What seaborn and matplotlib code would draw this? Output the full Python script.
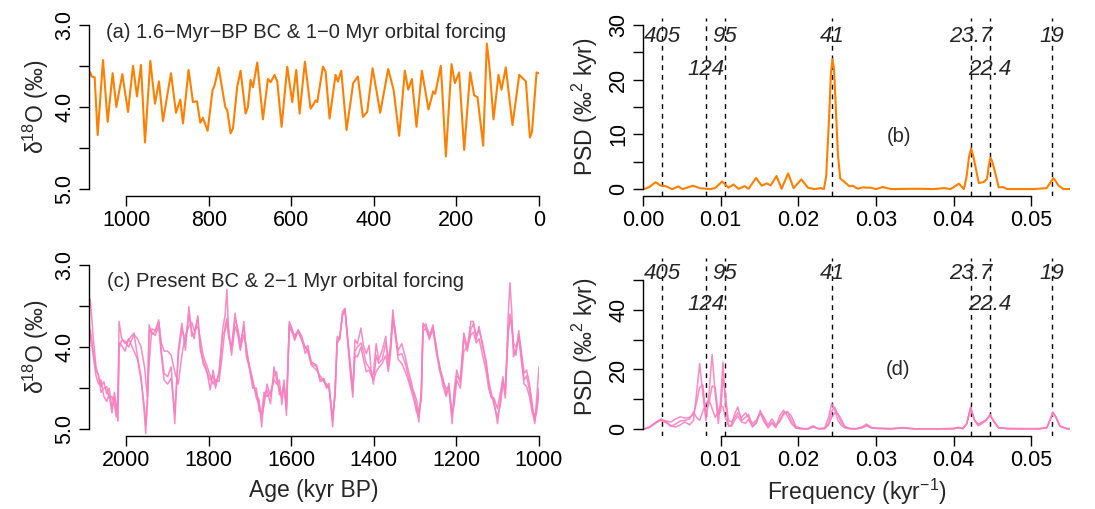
import numpy as np
import pandas as pd
import matplotlib
matplotlib.use("Agg")
import matplotlib.pyplot as plt
import seaborn as sns

# ---------------- data ----------------
# (a) simulated d18O, 1.6-Myr-BP boundary conditions, 1-0 Myr orbital forcing
age_a = [1087, 1083.5, 1076.3, 1069.0, 1056.1, 1044.8, 1032.7, 1023.8, 1009.3, 995.5,
         983.4, 973.8, 964.1, 954.4, 941.5, 930.2, 920.5, 910.8, 891.4, 879.3,
         868.8, 862.4, 848.7, 838.2, 828.5, 820.4, 814.0, 802.7, 790.6, 786.5,
         776.0, 759.9, 755.1, 747.0, 741.3, 730.9, 722.8, 710.7, 705.0, 698.6,
         692.9, 682.4, 668.7, 656.6, 650.1, 640.5, 634.0, 623.5, 609.8, 597.7,
         588.0, 579.9, 567.0, 553.3, 545.2, 541.2, 537.1, 523.4, 517.0, 507.3,
         492.8, 487.1, 479.0, 466.1, 450.0, 438.7, 426.6, 416.1, 403.0, 384.6,
         365.3, 352.3, 338.6, 324.9, 316.8, 307.9, 296.7, 283.7, 267.6, 256.3,
         251.5, 237.7, 225.6, 211.9, 203.8, 193.4, 181.2, 166.7, 157.0, 149.0,
         135.2, 126.4, 120.7, 110.2, 98.1, 90.8, 80.4, 64.2, 47.9, 31.7,
         22.0, 17.0, 5.9, 1.0]
d18o_a = [3.58, 3.63, 3.64, 4.34, 3.43, 4.18, 3.59, 4.00, 3.60, 4.06,
          3.50, 3.87, 3.49, 4.43, 3.44, 3.96, 3.69, 4.17, 3.59, 4.07,
          3.91, 4.20, 3.55, 3.94, 3.93, 4.19, 4.13, 4.29, 3.79, 3.75,
          3.52, 4.00, 4.04, 4.32, 4.26, 3.75, 3.56, 4.08, 4.00, 3.67,
          3.76, 3.46, 4.15, 3.66, 3.70, 3.61, 3.69, 4.24, 3.51, 3.94,
          3.55, 4.08, 3.45, 4.02, 3.96, 3.92, 3.94, 3.51, 3.57, 4.14,
          3.61, 3.69, 3.56, 4.28, 3.71, 3.63, 4.12, 4.06, 3.53, 4.07,
          3.54, 3.79, 4.35, 3.56, 3.79, 3.66, 4.24, 3.56, 4.03, 3.81,
          3.84, 3.50, 4.60, 3.48, 3.71, 3.58, 4.52, 3.58, 3.86, 3.88,
          4.47, 3.23, 3.47, 4.15, 3.61, 3.79, 3.52, 4.22, 3.61, 3.69,
          4.37, 4.30, 3.58, 3.59]

# (b) power spectral density of (a)
freq_b = [0.0, 0.00077, 0.00162, 0.00226, 0.0029, 0.00376, 0.00453, 0.0051, 0.0064, 0.0074,
          0.0087, 0.0093, 0.0102, 0.0110, 0.01166, 0.0123, 0.0131, 0.01358, 0.01456, 0.01529,
          0.01593, 0.01644, 0.0172, 0.01785, 0.0187, 0.01939, 0.0204, 0.02126, 0.0221, 0.0229,
          0.02331, 0.0236, 0.0240, 0.0242, 0.0244, 0.0246, 0.0248, 0.0251, 0.0254, 0.02596,
          0.0266, 0.0270, 0.02767, 0.0283, 0.02938, 0.03002, 0.03087, 0.03194, 0.03535, 0.03749,
          0.03877, 0.03962, 0.04069, 0.04133, 0.04167, 0.04200, 0.04227, 0.04255, 0.04283, 0.04325,
          0.04389, 0.04432, 0.04455, 0.04475, 0.04500, 0.04539, 0.04582, 0.04637, 0.04688, 0.0503,
          0.0520, 0.0525, 0.05286, 0.0532, 0.0535, 0.05414, 0.0550]
psd_b = [0.0, 0.4, 1.3, 0.7, 0.6, 0.05, 0.55, 0.05, 0.67, 0.2,
         0.06, 0.25, 1.46, 0.3, 0.9, 0.1, 0.6, 0.1, 2.07, 0.67,
         1.1, 0.73, 2.44, 0.12, 2.93, 0.24, 1.83, 0.3, 0.06, 0.24,
         0.06, 2.5, 14.0, 21.0, 23.7, 22.0, 16.0, 6.5, 2.0, 1.34,
         0.55, 0.67, 0.12, 0.37, 0.3, 0.06, 0.43, 0.06, 0.12, 0.06,
         0.24, 0.06, 1.04, 0.06, 2.26, 6.0, 7.44, 6.0, 4.1, 1.16,
         1.34, 1.95, 4.5, 5.8, 5.0, 2.87, 0.37, 0.43, 0.06, 0.06,
         0.24, 1.3, 2.07, 1.4, 0.73, 0.06, 0.06]

# (c) present boundary conditions, 2-1 Myr orbital forcing (three runs)
age_c = [2095.3, 2092.8, 2086.8, 2079.9, 2073.0, 2067.0, 2061.0, 2054.1, 2047.2, 2041.2,
         2034.4, 2028.4, 2024.1, 2019.8, 2017.2, 2011.2, 2002.6, 1994.0, 1981.1, 1972.5,
         1963.9, 1955.3, 1952.7, 1948.5, 1944.2, 1938.1, 1929.6, 1921.0, 1914.9, 1908.1,
         1899.5, 1890.9, 1882.3, 1873.7, 1865.1, 1856.5, 1848.0, 1841.1, 1835.1, 1826.5,
         1820.4, 1813.6, 1805.0, 1796.4, 1789.5, 1783.5, 1774.9, 1766.3, 1760.3, 1756.0,
         1751.7, 1744.8, 1736.3, 1729.4, 1723.4, 1714.8, 1708.8, 1700.2, 1693.3, 1684.7,
         1677.8, 1671.8, 1665.8, 1658.9, 1650.3, 1641.8, 1635.7, 1628.8, 1622.9, 1617.7,
         1611.7, 1604.8, 1598.8, 1591.9, 1583.3, 1574.7, 1566.1, 1560.1, 1551.5, 1538.7,
         1530.1, 1521.5, 1514.6, 1508.6, 1500.0, 1494.0, 1488.8, 1482.8, 1475.9, 1469.9,
         1463.1, 1457.0, 1451.0, 1445.9, 1439.9, 1431.3, 1425.3, 1418.4, 1411.5, 1405.5,
         1401.2, 1394.3, 1388.3, 1379.7, 1371.1, 1365.1, 1360.0, 1353.9, 1347.9, 1341.1,
         1332.5, 1323.9, 1317.0, 1308.4, 1302.4, 1296.4, 1291.2, 1285.2, 1280.9, 1274.1,
         1265.5, 1256.9, 1248.3, 1241.4, 1233.7, 1225.1, 1218.2, 1210.5, 1205.3, 1199.3,
         1190.7, 1182.1, 1173.5, 1164.9, 1158.9, 1152.1, 1145.2, 1136.6, 1128.0, 1122.0,
         1116.0, 1109.1, 1100.5, 1093.6, 1087.6, 1081.6, 1074.7, 1070.4, 1066.2, 1061.9,
         1055.8, 1049.0, 1043.0, 1036.1, 1030.1, 1023.2, 1016.3, 1010.3, 1006.0, 1000.0]
d18o_c1 = [4.16, 3.39, 3.43, 3.87, 4.24, 4.36, 4.48, 4.42, 4.57, 4.50,
           4.73, 4.61, 4.77, 4.67, 3.69, 3.89, 3.96, 3.91, 3.83, 4.12,
           4.36, 4.85, 5.05, 4.61, 3.73, 3.85, 3.81, 3.67, 4.04, 4.32,
           4.36, 4.24, 4.93, 4.04, 3.71, 4.04, 3.51, 3.87, 3.83, 3.65,
           4.04, 4.16, 4.28, 4.52, 4.28, 4.44, 4.32, 3.79, 3.61, 3.30,
           3.83, 4.04, 3.59, 3.83, 4.04, 3.69, 4.12, 4.28, 4.44, 4.57,
           4.65, 4.97, 4.61, 4.52, 4.69, 4.24, 4.40, 4.52, 4.61, 4.40,
           4.83, 3.69, 3.77, 3.89, 3.79, 3.87, 4.02, 3.98, 4.20, 4.24,
           4.40, 4.38, 4.48, 4.44, 4.97, 4.52, 3.87, 3.91, 3.57, 3.53,
           3.96, 4.32, 4.61, 3.91, 3.96, 3.77, 3.98, 4.08, 3.98, 4.36,
           4.32, 3.96, 4.16, 4.04, 3.87, 4.24, 4.04, 3.55, 3.87, 4.04,
           3.96, 4.12, 4.28, 4.44, 4.61, 4.73, 4.91, 4.52, 3.71, 3.77,
           3.91, 3.73, 4.08, 4.24, 4.36, 4.57, 4.44, 4.93, 4.52, 4.28,
           4.44, 3.83, 4.00, 3.69, 3.69, 3.91, 3.75, 4.00, 4.16, 4.44,
           4.61, 4.65, 4.93, 4.65, 4.36, 4.57, 3.63, 3.22, 3.55, 4.12,
           4.04, 3.85, 4.04, 4.32, 4.28, 4.44, 4.69, 4.93, 4.65, 4.24]
d18o_c2 = [4.00, 3.80, 3.79, 4.05, 4.30, 4.33, 4.55, 4.50, 4.48, 4.62,
           4.60, 4.70, 4.85, 4.62, 3.95, 3.98, 4.05, 3.90, 4.05, 4.15,
           4.40, 4.75, 4.95, 4.70, 3.80, 3.82, 3.86, 3.75, 4.10, 4.40,
           4.45, 4.38, 4.80, 4.10, 3.78, 3.95, 3.60, 3.80, 3.90, 3.62,
           3.98, 4.20, 4.30, 4.40, 4.35, 4.50, 4.30, 3.85, 3.80, 3.70,
           3.88, 4.00, 3.66, 3.78, 3.95, 3.75, 4.05, 4.25, 4.40, 4.62,
           4.70, 4.85, 4.70, 4.45, 4.60, 4.35, 4.30, 4.58, 4.55, 4.50,
           4.75, 3.75, 3.82, 3.85, 3.82, 3.92, 4.00, 4.05, 4.22, 4.28,
           4.35, 4.42, 4.45, 4.50, 4.90, 4.55, 3.92, 3.88, 3.62, 3.55,
           3.90, 4.25, 4.55, 4.05, 4.00, 3.95, 4.05, 4.20, 4.25, 4.30,
           4.45, 4.10, 4.20, 4.15, 3.95, 4.15, 4.00, 3.62, 3.80, 4.10,
           4.08, 4.20, 4.35, 4.50, 4.55, 4.65, 4.85, 4.60, 3.75, 3.72,
           3.85, 3.76, 4.00, 4.28, 4.40, 4.50, 4.52, 4.85, 4.60, 4.35,
           4.40, 3.90, 4.05, 3.78, 3.72, 3.85, 3.80, 3.95, 4.22, 4.40,
           4.55, 4.70, 4.85, 4.70, 4.45, 4.50, 3.85, 3.60, 3.75, 4.00,
           4.10, 3.80, 4.10, 4.40, 4.35, 4.52, 4.75, 4.85, 4.75, 4.50]
d18o_c3 = [3.95, 3.62, 3.85, 4.10, 4.35, 4.45, 4.40, 4.60, 4.66, 4.58,
           4.80, 4.55, 4.70, 4.90, 4.02, 3.92, 3.93, 4.00, 3.85, 3.90,
           4.00, 4.25, 4.40, 4.60, 4.20, 3.78, 3.80, 3.70, 3.95, 4.05,
           4.05, 4.10, 4.30, 4.45, 4.10, 3.85, 3.75, 3.70, 3.80, 3.75,
           3.90, 4.10, 4.22, 4.35, 4.45, 4.40, 4.42, 4.05, 3.75, 3.65,
           3.80, 4.10, 3.75, 3.85, 4.02, 3.85, 4.00, 4.30, 4.50, 4.50,
           4.78, 4.80, 4.55, 4.60, 4.55, 4.40, 4.45, 4.40, 4.70, 4.45,
           4.70, 3.72, 3.80, 3.92, 3.80, 3.90, 4.08, 4.02, 4.18, 4.22,
           4.42, 4.40, 4.50, 4.48, 4.85, 4.60, 3.95, 3.90, 3.60, 3.56,
           3.92, 4.20, 4.50, 4.10, 4.12, 4.00, 4.15, 4.30, 4.28, 4.35,
           4.40, 4.30, 4.25, 4.20, 4.10, 4.30, 4.10, 3.68, 3.85, 4.15,
           4.20, 4.30, 4.40, 4.55, 4.65, 4.80, 4.75, 4.65, 3.80, 3.78,
           3.88, 3.80, 4.05, 4.20, 4.45, 4.60, 4.48, 4.80, 4.70, 4.40,
           4.50, 4.05, 4.00, 3.85, 3.82, 3.95, 3.90, 4.10, 4.30, 4.50,
           4.60, 4.62, 4.75, 4.55, 4.40, 4.62, 3.80, 3.70, 3.68, 3.95,
           4.00, 3.90, 4.15, 4.45, 4.48, 4.60, 4.80, 4.90, 4.80, 4.55]

# (d) power spectral densities of the three runs in (c)
freq_d = [0.0, 0.0008, 0.0016, 0.0023, 0.0030, 0.0036, 0.0042, 0.0048, 0.0054, 0.0060,
          0.0065, 0.0069, 0.0073, 0.0077, 0.0081, 0.0085, 0.0089, 0.0093, 0.0097, 0.0100,
          0.0103, 0.0106, 0.0110, 0.0114, 0.0118, 0.0122, 0.0127, 0.0132, 0.0136, 0.0141,
          0.0146, 0.0151, 0.0156, 0.0161, 0.0166, 0.0171, 0.0176, 0.0181, 0.0186, 0.0191,
          0.0197, 0.0205, 0.0213, 0.0219, 0.0226, 0.0234, 0.0239, 0.0243, 0.0247, 0.0251,
          0.0255, 0.0260, 0.0266, 0.0275, 0.0282, 0.0288, 0.0295, 0.0305, 0.0320, 0.0335,
          0.0350, 0.0380, 0.0400, 0.0406, 0.0412, 0.0417, 0.0422, 0.0427, 0.0432, 0.0437,
          0.0442, 0.0447, 0.0452, 0.0458, 0.0470, 0.0490, 0.0510, 0.0520, 0.0524, 0.0528,
          0.0532, 0.0537, 0.0545, 0.0550]
psd_d1 = [0.0, 0.8, 2.2, 3.5, 2.6, 1.2, 0.8, 1.5, 2.5, 1.5,
          3.0, 12.0, 22.0, 12.0, 3.0, 12.0, 25.0, 12.0, 2.0, 10.0,
          22.5, 9.0, 1.0, 1.5, 5.0, 7.5, 3.0, 4.0, 5.0, 1.0,
          2.0, 6.3, 3.0, 0.5, 2.5, 0.8, 3.0, 5.5, 6.0, 3.0,
          0.5, 0.2, 0.3, 1.2, 0.2, 0.5, 4.0, 8.6, 6.5, 3.0,
          1.5, 0.5, 0.2, 0.3, 0.8, 1.8, 0.5, 0.4, 0.2, 0.5,
          0.2, 0.2, 0.3, 0.7, 0.3, 2.0, 7.5, 3.0, 1.2, 2.0,
          3.0, 5.0, 2.5, 0.5, 0.3, 0.3, 0.2, 0.6, 3.0, 5.8,
          4.0, 1.0, 0.3, 0.2]
psd_d2 = [0.0, 0.6, 2.0, 3.2, 2.8, 2.5, 3.5, 4.2, 3.8, 4.0,
          5.0, 9.0, 14.0, 14.8, 5.0, 9.0, 14.5, 14.0, 5.0, 6.0,
          17.0, 12.0, 3.0, 2.5, 4.0, 5.5, 4.0, 5.5, 4.0, 2.0,
          3.0, 5.8, 4.0, 1.5, 3.5, 1.5, 2.5, 5.0, 5.8, 4.5,
          1.0, 0.3, 0.2, 0.8, 0.3, 0.3, 2.0, 6.0, 7.5, 5.0,
          2.5, 0.8, 0.3, 0.2, 0.5, 1.2, 0.4, 0.3, 0.3, 0.4,
          0.2, 0.2, 0.2, 0.5, 0.3, 1.8, 7.0, 3.2, 1.5, 2.2,
          3.2, 4.8, 2.8, 0.6, 0.2, 0.2, 0.2, 0.5, 2.8, 5.5,
          4.2, 1.2, 0.3, 0.2]
psd_d3 = [0.0, 0.7, 2.3, 3.0, 2.2, 1.0, 1.8, 2.8, 3.0, 3.5,
          5.8, 4.0, 3.0, 6.0, 8.5, 9.8, 7.0, 4.0, 6.0, 8.0,
          7.5, 4.0, 1.5, 1.0, 3.0, 4.5, 2.5, 2.0, 3.5, 0.8,
          2.5, 5.5, 2.5, 0.8, 2.0, 0.6, 4.5, 6.4, 4.5, 2.0,
          0.4, 0.2, 0.2, 1.0, 0.2, 0.2, 1.5, 4.0, 5.5, 5.3,
          3.5, 1.0, 0.3, 0.2, 0.6, 1.5, 0.4, 0.3, 0.2, 0.6,
          0.2, 0.2, 0.3, 0.6, 0.2, 1.9, 7.3, 3.0, 1.8, 2.5,
          3.1, 4.6, 2.6, 0.5, 0.3, 0.2, 0.3, 0.5, 3.0, 5.6,
          4.0, 1.1, 0.3, 0.2]

# orbital periods (kyr) marked on the spectra; label rows (0 = upper, 1 = lower)
periods = [405, 124, 95, 41, 23.7, 22.4, 19]
period_labels = ["405", "124", "95", "41", "23.7", "22.4", "19"]
period_rows = [0, 1, 0, 0, 0, 1, 0]

# ---------------- style ----------------
sns.set_theme(style="ticks")
plt.rcParams["font.family"] = ["Liberation Sans", "DejaVu Sans"]
plt.rcParams["mathtext.fontset"] = "custom"
plt.rcParams["mathtext.rm"] = "Liberation Sans"
plt.rcParams["mathtext.it"] = "Liberation Sans:italic"
plt.rcParams["mathtext.default"] = "rm"
plt.rcParams["lines.solid_joinstyle"] = "round"
plt.rcParams["lines.solid_capstyle"] = "round"

ORANGE = "#ff7f00"
PINK = "#f77fbe"
TICK_FS = 15.5
LAB_FS = 16.5
TITLE_FS = 14.5
PER_FS = 16

W, H = 1095, 509
fig = plt.figure(figsize=(W / 100, H / 100), dpi=100)


def add_axes(left, right, top, bottom):
    return fig.add_axes([left / W, 1 - bottom / H, (right - left) / W, (bottom - top) / H])


def r_style(ax):
    for s in ("top", "right"):
        ax.spines[s].set_visible(False)
    for s in ("left", "bottom"):
        ax.spines[s].set_linewidth(1.0)
        ax.spines[s].set_color("black")
    ax.tick_params(axis="both", direction="out", length=7, width=1.0, colors="black",
                   labelsize=TICK_FS, pad=3)
    for lab in ax.get_yticklabels():
        lab.set_rotation(90)
        lab.set_va("center")


ax_a = add_axes(89, 539, 18, 196)
ax_b = add_axes(643, 1070, 18, 196)
ax_c = add_axes(89, 539, 258, 436)
ax_d = add_axes(643, 1070, 258, 436)

# ---- (a) ----
df_a = pd.DataFrame({"age": age_a, "d18o": d18o_a})
sns.lineplot(data=df_a, x="age", y="d18o", ax=ax_a, color=ORANGE, lw=1.5, sort=False)
ax_a.set_xlim(1090, 0)
ax_a.set_ylim(5.08, 2.92)
ax_a.set_xticks([1000, 800, 600, 400, 200, 0])
ax_a.set_xticklabels(["1000", "800", "600", "400", "200", "0"])
ax_a.set_yticks([3.0, 3.5, 4.0, 4.5, 5.0])
ax_a.set_yticklabels(["3.0", "", "4.0", "", "5.0"])
ax_a.spines["bottom"].set_bounds(0, 1000)
ax_a.spines["left"].set_bounds(3.0, 5.0)
ax_a.set_xlabel("")
ax_a.set_ylabel(r"δ$^{18}$O (‰)", fontsize=LAB_FS, labelpad=2)
ax_a.text(1050, 3.10, "(a) 1.6\u2212Myr\u2212BP BC & 1\u22120 Myr orbital forcing",
          fontsize=TITLE_FS, ha="left", va="center")
r_style(ax_a)

# ---- (c) ----
df_c = pd.DataFrame({"age": age_c * 3,
                     "d18o": d18o_c1 + d18o_c2 + d18o_c3,
                     "run": ["1"] * len(age_c) + ["2"] * len(age_c) + ["3"] * len(age_c)})
sns.lineplot(data=df_c, x="age", y="d18o", units="run", estimator=None, ax=ax_c,
             color=PINK, lw=1.1, sort=False, alpha=0.9)
ax_c.set_xlim(2090, 1000)
ax_c.set_ylim(5.08, 2.92)
ax_c.set_xticks([2000, 1800, 1600, 1400, 1200, 1000])
ax_c.set_xticklabels(["2000", "1800", "1600", "1400", "1200", "1000"])
ax_c.set_yticks([3.0, 3.5, 4.0, 4.5, 5.0])
ax_c.set_yticklabels(["3.0", "", "4.0", "", "5.0"])
ax_c.spines["bottom"].set_bounds(1000, 2000)
ax_c.spines["left"].set_bounds(3.0, 5.0)
ax_c.set_xlabel("Age (kyr BP)", fontsize=LAB_FS, labelpad=6)
ax_c.set_ylabel(r"δ$^{18}$O (‰)", fontsize=LAB_FS, labelpad=2)
ax_c.text(2046, 3.20, "(c) Present BC & 2\u22121 Myr orbital forcing",
          fontsize=TITLE_FS, ha="left", va="center")
r_style(ax_c)


def mark_periods(ax, y_rows):
    for p, lab, row in zip(periods, period_labels, period_rows):
        f = 1.0 / p
        ax.axvline(f, color="black", lw=1.0, ls=(0, (3.5, 3.5)), zorder=1)
        ax.text(f, y_rows[row], lab, fontsize=PER_FS, style="italic",
                ha="center", va="center", zorder=3)


# ---- (b) ----
df_b = pd.DataFrame({"freq": freq_b, "psd": psd_b})
sns.lineplot(data=df_b, x="freq", y="psd", ax=ax_b, color=ORANGE, lw=1.5, sort=False, zorder=2)
ax_b.set_xlim(0, 0.055)
ax_b.set_ylim(-1.2, 31.2)
mark_periods(ax_b, [27.9, 21.8])
ax_b.set_xticks([0.0, 0.01, 0.02, 0.03, 0.04, 0.05])
ax_b.set_xticklabels(["0.00", "0.01", "0.02", "0.03", "0.04", "0.05"])
ax_b.set_yticks([0, 5, 10, 15, 20, 25, 30])
ax_b.set_yticklabels(["0", "", "10", "", "20", "", "30"])
ax_b.spines["bottom"].set_bounds(0, 0.05)
ax_b.spines["left"].set_bounds(0, 30)
ax_b.set_xlabel("")
ax_b.set_ylabel(r"PSD (‰$^{2}$ kyr)", fontsize=LAB_FS, labelpad=6)
ax_b.text(0.033, 9.6, "(b)", fontsize=TITLE_FS, ha="center", va="center")
r_style(ax_b)

# ---- (d) ----
df_d = pd.DataFrame({"freq": freq_d * 3,
                     "psd": psd_d1 + psd_d2 + psd_d3,
                     "run": ["1"] * len(freq_d) + ["2"] * len(freq_d) + ["3"] * len(freq_d)})
sns.lineplot(data=df_d, x="freq", y="psd", units="run", estimator=None, ax=ax_d,
             color=PINK, lw=1.1, sort=False, alpha=0.9, zorder=2)
ax_d.set_xlim(0, 0.055)
ax_d.set_ylim(-2.2, 57.2)
mark_periods(ax_d, [51.9, 41.8])
ax_d.set_xticks([0.01, 0.02, 0.03, 0.04, 0.05])
ax_d.set_xticklabels(["0.01", "0.02", "0.03", "0.04", "0.05"])
ax_d.set_yticks([0, 10, 20, 30, 40, 50])
ax_d.set_yticklabels(["0", "", "20", "", "40", ""])
ax_d.spines["bottom"].set_bounds(0.01, 0.05)
ax_d.spines["left"].set_bounds(0, 50)
ax_d.set_xlabel(r"Frequency (kyr$^{-1}$)", fontsize=LAB_FS, labelpad=4)
ax_d.set_ylabel(r"PSD (‰$^{2}$ kyr)", fontsize=LAB_FS, labelpad=6)
ax_d.text(0.0328, 19.9, "(d)", fontsize=TITLE_FS, ha="center", va="center")
r_style(ax_d)

for ax in (ax_a, ax_b, ax_c, ax_d):
    leg = ax.get_legend()
    if leg is not None:
        leg.remove()

fig.savefig("out.png", dpi=100)
